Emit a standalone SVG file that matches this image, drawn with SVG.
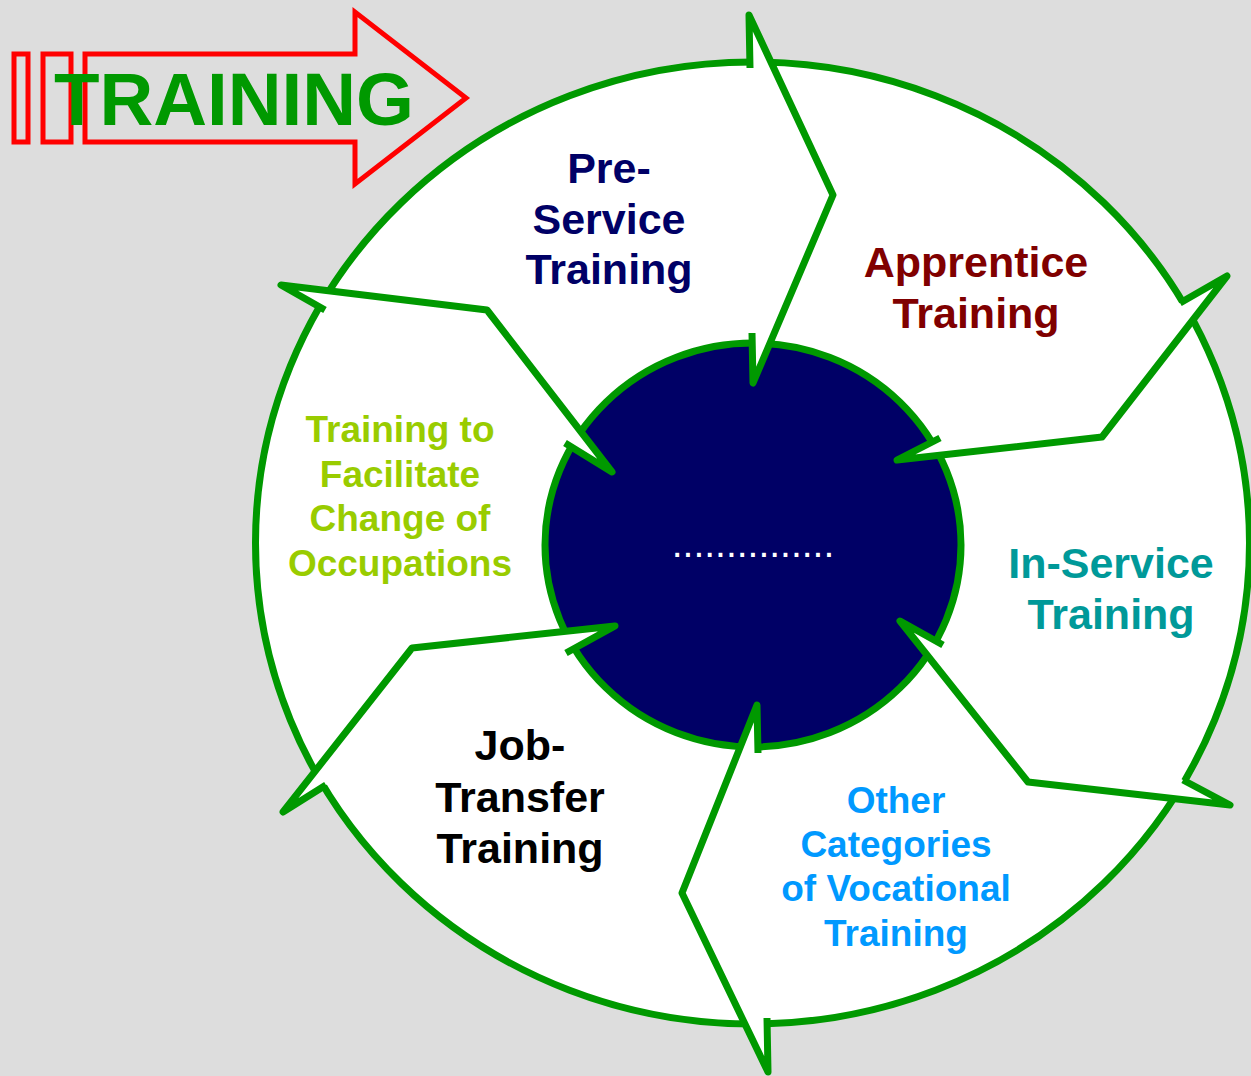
<svg xmlns="http://www.w3.org/2000/svg" width="1251" height="1076" viewBox="0 0 1251 1076">
<style>
.t{font-family:"Liberation Sans",Arial,sans-serif;font-weight:bold;text-anchor:middle}
.chev{fill:#FFFFFF;stroke:#009900;stroke-width:7;stroke-linejoin:round;stroke-linecap:butt}
.red{fill:none;stroke:#FF0000;stroke-width:5}
</style>
<rect x="0" y="0" width="1251" height="1076" fill="#DDDDDD"/>
<g id="title">
<rect class="red" x="14" y="54" width="14" height="88"/>
<rect class="red" x="43" y="54" width="28" height="88"/>
<polygon class="red" points="85,54 355,54 355,12 466,98 355,184 355,142 85,142"/>
<text x="54" y="125" font-family="Liberation Sans, Arial, sans-serif" font-weight="bold" font-size="74.5" fill="#009900">TRAINING</text>
</g>
<g id="ring">
<ellipse cx="752.5" cy="543" rx="497" ry="481" fill="#FFFFFF" stroke="#009900" stroke-width="7"/>
</g>
<g id="hub">
<ellipse cx="753" cy="545" rx="208" ry="202" fill="#000066" stroke="#009900" stroke-width="7"/>
<text x="753" y="557" font-family="Liberation Sans, Arial, sans-serif" font-size="39" fill="#FFFFFF" text-anchor="middle">...............</text>
</g>
<g id="connectors">
<path class="chev" d="M750,68 L749,15 L833,195 L753,383 L752,333"/>
<path class="chev" d="M1180,303 L1227,276 L1102,437 L897,460 L940,438"/>
<path class="chev" d="M1183,780 L1230,805 L1028,782 L900,621 L943,645"/>
<path class="chev" d="M767,1018 L768,1072 L682,893 L757,705 L758,753"/>
<path class="chev" d="M326,785 L283,812 L412,648 L615,626 L566,653"/>
<path class="chev" d="M325,310 L281,285 L487,310 L612,472 L565,443"/>
</g>
<g id="pre-service">
<text class="t" font-size="43" fill="#000066"><tspan x="609" y="183">Pre-</tspan><tspan x="609" y="234">Service</tspan><tspan x="609" y="284">Training</tspan></text>
</g>
<g id="apprentice">
<text class="t" font-size="43" fill="#800000"><tspan x="976" y="277">Apprentice</tspan><tspan x="976" y="328">Training</tspan></text>
</g>
<g id="in-service">
<text class="t" font-size="43" fill="#009999"><tspan x="1111" y="578">In-Service</tspan><tspan x="1111" y="629">Training</tspan></text>
</g>
<g id="other">
<text class="t" font-size="37" fill="#0099FF"><tspan x="896" y="813">Other</tspan><tspan x="896" y="857">Categories</tspan><tspan x="896" y="901">of Vocational</tspan><tspan x="896" y="946">Training</tspan></text>
</g>
<g id="job-transfer">
<text class="t" font-size="43" fill="#000000"><tspan x="520" y="760">Job-</tspan><tspan x="520" y="812">Transfer</tspan><tspan x="520" y="863">Training</tspan></text>
</g>
<g id="change">
<text class="t" font-size="37" fill="#99CC00"><tspan x="400" y="442">Training to</tspan><tspan x="400" y="487">Facilitate</tspan><tspan x="400" y="531">Change of</tspan><tspan x="400" y="576">Occupations</tspan></text>
</g>
</svg>
